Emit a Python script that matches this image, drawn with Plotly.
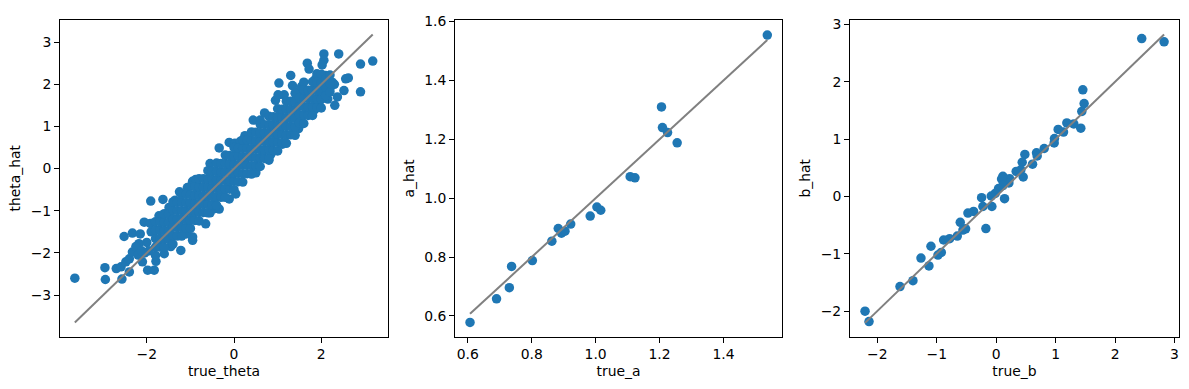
import plotly.graph_objects as go

# ---------------- Panel 1: true_theta vs theta_hat ----------------
# dense band, read column by column (x: list of y values)
theta_band = {
    -1.8: [-2.06, -1.86, -1.66, -1.46, -1.26],
    -1.7: [-1.86, -1.66, -1.46, -1.26],
    -1.6: [-1.87, -1.67, -1.47, -1.27, -1.07],
    -1.5: [-1.68, -1.48, -1.28, -1.08],
    -1.4: [-1.79, -1.59, -1.39, -1.19, -0.99, -0.79],
    -1.3: [-1.60, -1.40, -1.20, -1.00, -0.80],
    -1.2: [-1.60, -1.40, -1.20, -1.00, -0.80, -0.60],
    -1.1: [-1.41, -1.21, -1.01, -0.81, -0.61],
    -1.0: [-1.42, -1.22, -1.02, -0.82, -0.62, -0.42],
    -0.9: [-1.23, -1.03, -0.83, -0.63, -0.43],
    -0.8: [-1.24, -1.04, -0.84, -0.64, -0.44, -0.24],
    -0.7: [-1.04, -0.84, -0.64, -0.44, -0.24],
    -0.6: [-1.05, -0.85, -0.65, -0.45, -0.25, -0.05],
    -0.5: [-0.86, -0.66, -0.46, -0.26, -0.06],
    -0.4: [-0.87, -0.67, -0.47, -0.27, -0.07, 0.13],
    -0.3: [-0.68, -0.48, -0.28, -0.08, 0.12],
    -0.2: [-0.68, -0.48, -0.28, -0.08, 0.12, 0.32],
    -0.1: [-0.49, -0.29, -0.09, 0.11, 0.31],
    0.0: [-0.50, -0.30, -0.10, 0.10, 0.30, 0.50],
    0.1: [-0.31, -0.11, 0.09, 0.29, 0.49],
    0.2: [-0.32, -0.12, 0.08, 0.28, 0.48, 0.68],
    0.3: [-0.12, 0.08, 0.28, 0.48, 0.68],
    0.4: [-0.13, 0.07, 0.27, 0.47, 0.67, 0.87],
    0.5: [0.06, 0.26, 0.46, 0.66, 0.86],
    0.6: [0.05, 0.25, 0.45, 0.65, 0.85, 1.05],
    0.7: [0.24, 0.44, 0.64, 0.84, 1.04],
    0.8: [0.24, 0.44, 0.64, 0.84, 1.04, 1.24],
    0.9: [0.43, 0.63, 0.83, 1.03, 1.23],
    1.0: [0.42, 0.62, 0.82, 1.02, 1.22, 1.42],
    1.1: [0.61, 0.81, 1.01, 1.21, 1.41],
    1.2: [0.60, 0.80, 1.00, 1.20, 1.40, 1.60],
    1.3: [0.80, 1.00, 1.20, 1.40, 1.60],
    1.4: [0.79, 0.99, 1.19, 1.39, 1.59, 1.79],
    1.5: [1.08, 1.28, 1.48, 1.68],
    1.6: [1.07, 1.27, 1.47, 1.67, 1.87],
    1.7: [1.26, 1.46, 1.66, 1.86],
    1.8: [1.26, 1.46, 1.66, 1.86, 2.06],
    1.9: [1.45, 1.65, 1.85, 2.05],
    2.0: [1.44, 1.64, 1.84, 2.04, 2.24],
    2.1: [1.73, 1.93, 2.13],
    2.2: [1.82, 2.02, 2.22],
}

# scattered points around the band
theta_scatter = [
    (-3.65, -2.60), (-2.96, -2.35), (-2.95, -2.63), (-2.70, -2.37), (-2.59, -2.33),
    (-2.57, -2.62), (-2.40, -2.45), (-2.48, -2.21), (-2.40, -2.14), (-2.33, -1.98),
    (-2.52, -1.61), (-2.33, -1.53), (-2.18, -1.78), (-2.10, -2.21), (-1.98, -2.41),
    (-1.83, -2.41), (-1.79, -2.20), (-1.91, -0.77), (-1.63, -0.73), (-2.06, -1.27),
    (-1.60, -2.02), (-1.22, -1.94), (-0.95, -1.70), (-1.72, -1.12), (-1.49, -0.92),
    (-2.25, -1.85), (-2.15, -1.55), (-2.00, -1.75), (-1.95, -1.95), (-1.90, -1.50),
    (-2.05, -2.00), (-2.20, -2.05), (-2.12, -1.95), (-1.92, -1.30),
    (-0.34, 0.49), (-0.11, 0.62), (0.02, 0.60), (0.25, 0.78), (0.44, 1.15),
    (0.70, 1.32), (0.95, 1.62), (1.15, 1.75), (-0.95, -0.30), (-1.25, -0.55),
    (-1.35, -0.75), (0.50, -0.10), (-0.11, -0.72), (-0.95, -1.62), (-0.55, -1.05),
    (1.11, 0.58), (1.40, 0.92), (1.68, 1.30), (0.85, 0.35), (-0.45, -0.95),
    (-1.10, -1.55), (-1.45, -1.85), (1.55, 1.95), (1.85, 1.40),
    (-0.65, -1.31), (-0.34, -0.96), (0.04, -0.60), (0.80, 0.20), (1.48, 0.95),
    (-0.88, -0.26), (-1.07, -0.45), (0.60, 1.15), (0.15, 0.65), (-0.55, 0.12),
    (2.06, 2.72), (2.40, 2.72), (1.68, 2.50), (1.72, 2.36), (2.06, 2.57),
    (2.02, 2.46), (2.90, 2.48), (3.18, 2.55), (2.90, 1.82), (2.56, 2.13),
    (2.52, 1.85), (2.37, 1.70), (2.31, 1.50), (1.30, 2.21), (1.03, 2.03),
    (1.01, 1.75), (2.10, 2.21), (2.25, 2.05), (1.87, 2.13), (1.60, 2.05),
    (1.34, 1.97), (1.95, 1.50), (2.62, 2.15), (2.20, 1.90), (2.30, 2.00),
    (2.15, 1.65), (1.90, 2.25), (1.50, 1.85),
]

true_theta = [p[0] for p in theta_scatter]
theta_hat = [p[1] for p in theta_scatter]
for xv, ys in theta_band.items():
    for yv in ys:
        true_theta.append(xv)
        theta_hat.append(yv)

# ---------------- Panel 2: true_a vs a_hat ----------------
true_a = [1.537, 1.206, 1.209, 1.225, 1.255, 1.108, 1.123, 1.004, 1.016, 0.983,
          0.922, 0.883, 0.893, 0.904, 0.863, 0.802, 0.737, 0.730, 0.690, 0.607]
a_hat = [1.554, 1.310, 1.240, 1.223, 1.188, 1.073, 1.069, 0.970, 0.959, 0.939,
         0.912, 0.897, 0.881, 0.888, 0.854, 0.788, 0.768, 0.696, 0.658, 0.578]

# ---------------- Panel 3: true_b vs b_hat ----------------
true_b = [2.448, 2.824, 1.457, 1.479, 1.440, 1.423, 1.305, 1.188, 1.132, 1.042,
          0.980, 0.975, 0.807, 0.678, 0.689, 0.611, 0.482, 0.437, 0.415, 0.454,
          0.336, 0.224, 0.213, 0.112, 0.090, 0.112, 0.140, 0.039, -0.017, -0.084,
          -0.246, -0.224, -0.073, -0.381, -0.476, -0.174, -0.605, -0.515, -0.560,
          -0.655, -0.784, -0.885, -0.924, -0.980, -1.098, -1.266, -1.132, -1.401,
          -1.619, -2.207, -2.140]
b_hat = [2.752, 2.695, 1.859, 1.619, 1.482, 1.190, 1.264, 1.281, 1.121, 1.167,
         1.007, 0.932, 0.835, 0.761, 0.704, 0.561, 0.732, 0.595, 0.463, 0.338,
         0.435, 0.309, 0.235, 0.349, 0.303, 0.189, -0.040, 0.137, 0.051, 0.006,
         -0.023, -0.177, -0.177, -0.263, -0.292, -0.561, -0.452, -0.566, -0.589,
         -0.692, -0.738, -0.761, -0.978, -1.024, -0.870, -1.076, -1.213, -1.470,
         -1.573, -2.002, -2.185]

panels = [
    (true_theta, theta_hat, "true_theta", "theta_hat", [-3.99, 3.53], [-3.99, 3.53], 2, 1, None),
    (true_a, a_hat, "true_a", "a_hat", [0.560, 1.583], [0.529, 1.606], 0.2, 0.2, ".1f"),
    (true_b, b_hat, "true_b", "b_hat", [-2.46, 3.075], [-2.45, 3.08], 1, 1, None),
]

W, H = 1189, 389
xdom_px = [(60, 388), (455, 782), (850, 1179)]
ydom = [(H - 336) / H, (H - 14) / H]

BLUE = "#1f77b4"
font = dict(family="DejaVu Sans", size=13.9, color="black")

fig = go.Figure()
layout = dict(
    width=W, height=H, margin=dict(l=0, r=0, t=0, b=0, pad=0),
    paper_bgcolor="white", plot_bgcolor="white", showlegend=False, font=font,
)

for i, (xs, ys, xt, yt, xr, yr, dx, dy, fmt) in enumerate(panels):
    n = "" if i == 0 else str(i + 1)
    fig.add_trace(go.Scatter(x=xs, y=ys, mode="markers",
                             marker=dict(color=BLUE, size=9.5, line=dict(width=0)),
                             xaxis="x" + n, yaxis="y" + n, hoverinfo="skip"))
    lo, hi = min(xs), max(xs)
    fig.add_trace(go.Scatter(x=[lo, hi], y=[lo, hi], mode="lines",
                             line=dict(color="gray", width=2),
                             xaxis="x" + n, yaxis="y" + n, hoverinfo="skip"))
    axcommon = dict(showgrid=False, zeroline=False, showline=True, mirror=True,
                    linecolor="black", linewidth=1, ticks="outside", ticklen=5,
                    tickwidth=1, tickcolor="black", tickfont=font)
    x0, x1 = xdom_px[i]
    layout["xaxis" + n] = dict(domain=[x0 / W, x1 / W], range=xr, dtick=dx,
                               tick0=0, anchor="y" + n,
                               title=dict(text=xt, font=font, standoff=4),
                               tickformat=fmt, **axcommon)
    layout["yaxis" + n] = dict(domain=ydom, range=yr, dtick=dy, tick0=0,
                               anchor="x" + n,
                               title=dict(text=yt, font=font, standoff=6),
                               tickformat=fmt, **axcommon)

fig.update_layout(**layout)
fig.write_html("out.html", config={"displayModeBar": False})
